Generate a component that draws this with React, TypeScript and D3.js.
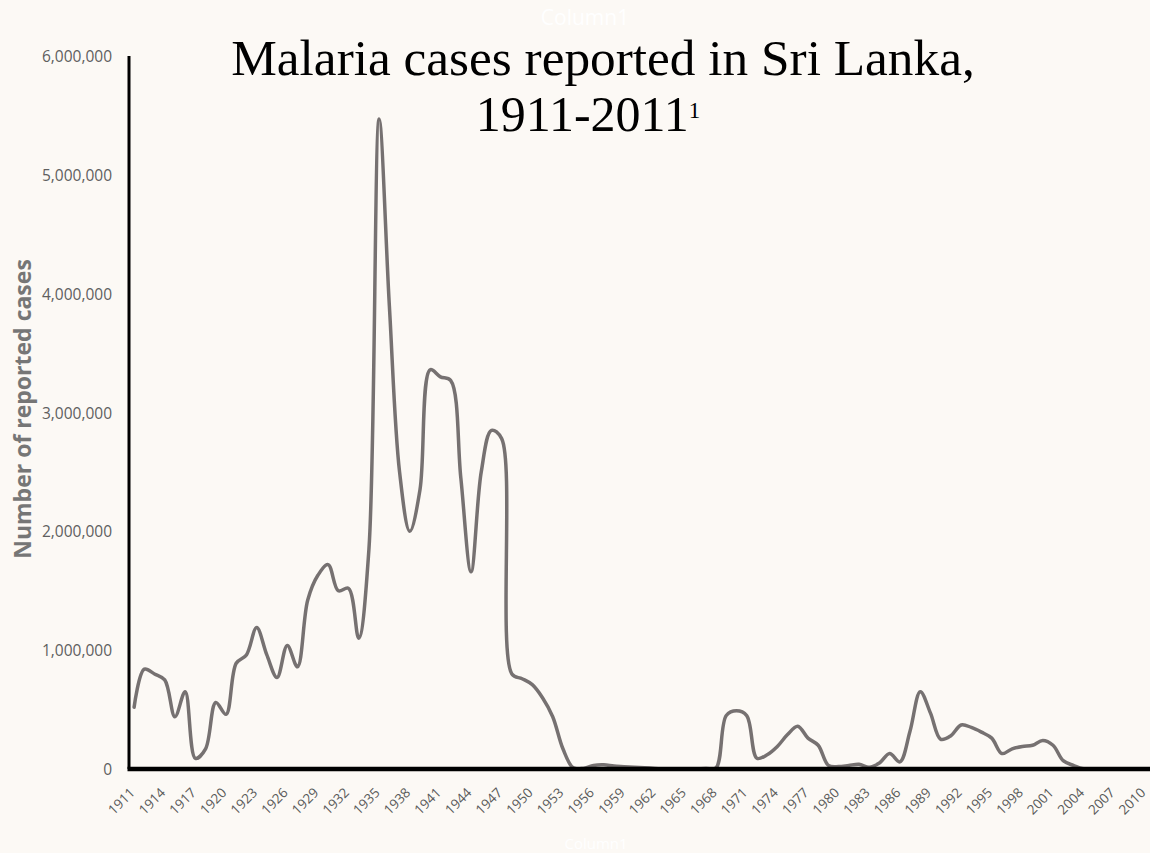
import React from 'react';
import * as d3 from 'd3';

const years: number[] = [
  1911, 1912, 1913, 1914, 1915, 1916, 1917, 1918, 1919, 1920,
  1921, 1922, 1923, 1924, 1925, 1926, 1927, 1928, 1929, 1930,
  1931, 1932, 1933, 1934, 1935, 1936, 1937, 1938, 1939, 1940,
  1941, 1942, 1943, 1944, 1945, 1946, 1947, 1948, 1949, 1950,
  1951, 1952, 1953, 1954, 1955, 1956, 1957, 1958, 1959, 1960,
  1961, 1962, 1963, 1964, 1965, 1966, 1967, 1968, 1969, 1970,
  1971, 1972, 1973, 1974, 1975, 1976, 1977, 1978, 1979, 1980,
  1981, 1982, 1983, 1984, 1985, 1986, 1987, 1988, 1989, 1990,
  1991, 1992, 1993, 1994, 1995, 1996, 1997, 1998, 1999, 2000,
  2001, 2002, 2003, 2004, 2005, 2006, 2007, 2008, 2009, 2010,
];

const cases: number[] = [
  520000, 840000, 800000, 750000, 440000, 650000, 90000, 170000, 560000, 460000,
  890000, 960000, 1190000, 960000, 770000, 1040000, 860000, 1420000, 1630000, 1720000,
  1500000, 1520000, 1100000, 1850000, 5470000, 3900000, 2500000, 2000000, 2350000, 3360000,
  3300000, 3270000, 2450000, 1660000, 2500000, 2850000, 2780000, 800000, 760000, 710000,
  600000, 440000, 170000, 10000, 5000, 30000, 35000, 25000, 20000, 15000,
  10000, 5000, 20, 200, 300, 500, 3500, 10000, 450000, 490000,
  450000, 90000, 120000, 190000, 290000, 360000, 260000, 200000, 30000, 20000,
  30000, 40000, 15000, 50000, 130000, 60000, 320000, 650000, 470000, 250000,
  280000, 370000, 350000, 310000, 260000, 130000, 170000, 190000, 200000, 240000,
  200000, 70000, 30000, 2000, 1000, 600, 200, 700, 600, 700,
];

const yTicks: number[] = [0, 1000000, 2000000, 3000000, 4000000, 5000000, 6000000];
const xLabelStep = 3;

const titleLine1 = 'Malaria cases reported in Sri Lanka,';
const titleLine2 = '1911-2011';
const titleSup = '1';
const yAxisTitle = 'Number of reported cases';
const hiddenTitle = 'Column1';

const W = 1150;
const H = 853;

export default function App() {
  const x = d3.scaleBand<number>().domain(years).range([129, 1150]);
  const y = d3.scaleLinear().domain([0, 6000000]).range([769, 56]);
  const cx = (yr: number) => (x(yr) as number) + x.bandwidth() / 2;

  const line = d3
    .line<number>()
    .x((_, i) => cx(years[i]))
    .y((d) => y(d))
    .curve(d3.curveCatmullRom.alpha(0.5));

  const fmt = d3.format(',');
  const sans = "'Open Sans', 'Noto Sans', sans-serif";
  const serif = "'Liberation Serif', 'DejaVu Serif', serif";

  return (
    <svg
      width={W}
      height={H}
      style={{ position: 'absolute', left: 0, top: 0, display: 'block' }}
    >
      <rect x={0} y={0} width={W} height={H} fill="#FCF9F5" />

      {/* placeholder titles (white) */}
      <text x={585} y={25} textAnchor="middle" fontFamily={sans} fontSize={21} fill="#FFFFFF">
        {hiddenTitle}
      </text>
      <text x={596} y={849} textAnchor="middle" fontFamily={sans} fontSize={15} fill="#FFFFFF">
        {hiddenTitle}
      </text>

      {/* y tick labels */}
      {yTicks.map((t) => (
        <text
          key={t}
          x={112}
          y={y(t)}
          textAnchor="end"
          dominantBaseline="central"
          fontFamily={sans}
          fontSize={15.5}
          fill="#5f5f5f"
        >
          {fmt(t)}
        </text>
      ))}

      {/* y axis title */}
      <text
        transform={`translate(31,409) rotate(-90)`}
        textAnchor="middle"
        fontFamily={sans}
        fontWeight={700}
        fontSize={23}
        fill="#767676"
      >
        {yAxisTitle}
      </text>

      {/* x tick labels */}
      {years
        .filter((_, i) => i % xLabelStep === 0)
        .map((yr) => (
          <text
            key={yr}
            transform={`translate(${cx(yr) - 2},${790}) rotate(-45)`}
            textAnchor="end"
            dominantBaseline="central"
            fontFamily={sans}
            fontSize={13.5}
            fill="#595959"
          >
            {yr}
          </text>
        ))}

      {/* series */}
      <path
        d={line(cases) || ''}
        fill="none"
        stroke="#767171"
        strokeWidth={3.5}
        strokeLinejoin="round"
        strokeLinecap="round"
      />

      {/* axes */}
      <line x1={129} x2={129} y1={y(6000000)} y2={y(0)} stroke="#000" strokeWidth={3} />
      <line x1={127.5} x2={1150} y1={y(0)} y2={y(0)} stroke="#000" strokeWidth={4.5} />

      {/* title */}
      <text x={603} y={75} textAnchor="middle" fontFamily={serif} fontSize={51.3} fill="#000">
        {titleLine1}
      </text>
      <text x={588} y={131} textAnchor="middle" fontFamily={serif} fontSize={50} fill="#000">
        {titleLine2}
        <tspan fontSize={23} dy={-13}>
          {titleSup}
        </tspan>
      </text>
    </svg>
  );
}
